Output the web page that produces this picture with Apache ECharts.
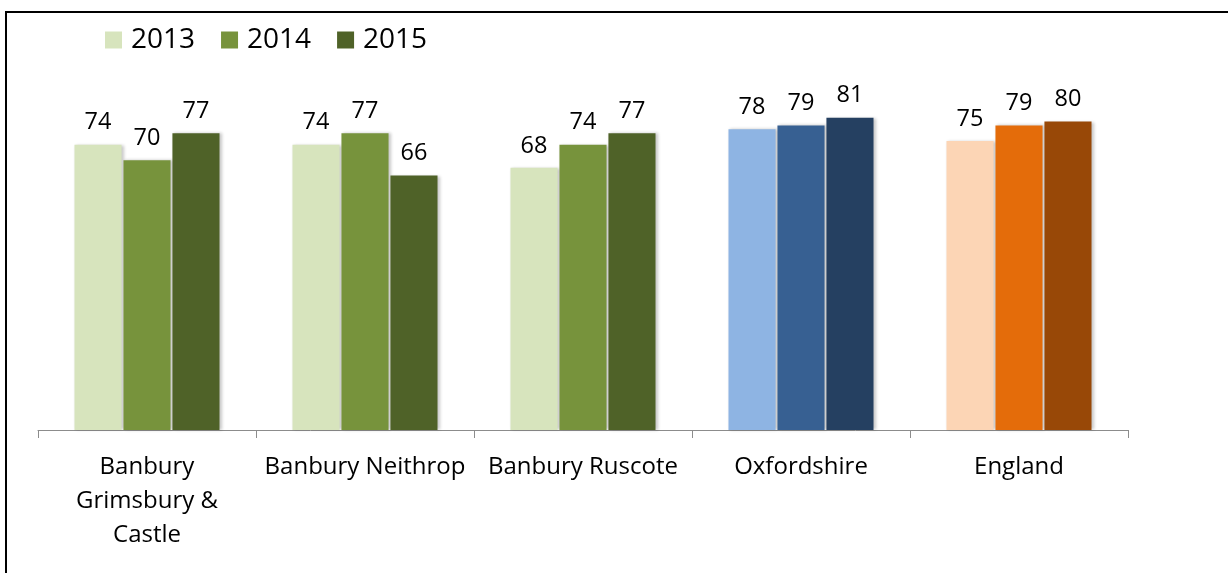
<!DOCTYPE html>
<html>
<head>
<meta charset="utf-8">
<script src="https://cdn.jsdelivr.net/npm/echarts@6/dist/echarts.min.js"></script>
<style>
  html, body { margin: 0; padding: 0; background: #fff; }
  #chart { width: 1228px; height: 573px; }
</style>
</head>
<body>
<div id="chart"></div>
<script>
// Areas compared and the three survey years
const categories = ['Banbury\nGrimsbury &\nCastle', 'Banbury Neithrop', 'Banbury Ruscote', 'Oxfordshire', 'England'];
const years = ['2013', '2014', '2015'];
const values2013 = [74, 74, 68, 78, 75];
const values2014 = [70, 77, 74, 79, 79];
const values2015 = [77, 66, 77, 81, 80];

// Palettes: green for Banbury wards, blue for the county, orange for England
const greens = ['#D7E4BD', '#77933C', '#4F6228'];
const blues = ['#8EB4E3', '#376092', '#254061'];
const oranges = ['#FCD5B5', '#E46C0A', '#984807'];

const FONT = '"Open Sans", Lato, sans-serif';

function colourFor(catIndex, yearIndex) {
  if (catIndex === 3) return blues[yearIndex];
  if (catIndex === 4) return oranges[yearIndex];
  return greens[yearIndex];
}

const seriesValues = [values2013, values2014, values2015];

const chart = echarts.init(document.getElementById('chart'));
chart.setOption({
  backgroundColor: '#fff',
  animation: false,
  textStyle: { fontFamily: FONT },
  graphic: [
    { type: 'line', shape: { x1: 5, y1: 12, x2: 1228, y2: 12 }, style: { stroke: '#000', lineWidth: 2 } },
    { type: 'line', shape: { x1: 6, y1: 12, x2: 6, y2: 573 }, style: { stroke: '#000', lineWidth: 2 } }
  ],
  legend: {
    left: 100,
    top: 21,
    icon: 'rect',
    itemWidth: 17,
    itemHeight: 17,
    itemGap: 26,
    textStyle: { fontSize: 28, color: '#000', fontFamily: FONT, padding: [0, 0, 0, 4] },
    data: years
  },
  grid: { left: 38, right: 100, top: 44.5, bottom: 143, containLabel: false },
  xAxis: {
    type: 'category',
    data: categories,
    axisLine: { lineStyle: { color: '#8C8C8C', width: 1 } },
    axisTick: { show: true, length: 8, lineStyle: { color: '#8C8C8C' } },
    axisLabel: {
      interval: 0,
      margin: 20,
      fontSize: 24,
      lineHeight: 34,
      color: '#000',
      fontFamily: FONT,
      verticalAlign: 'top'
    }
  },
  yAxis: {
    type: 'value',
    min: 0,
    max: 100,
    show: false,
    splitLine: { show: false }
  },
  series: seriesValues.map((vals, yi) => ({
    name: years[yi],
    type: 'bar',
    barWidth: '21.6%',
    barGap: '4%',
    itemStyle: {
      color: greens[yi],
      shadowColor: 'rgba(0,0,0,0.22)',
      shadowBlur: 3,
      shadowOffsetX: 2,
      shadowOffsetY: 0
    },
    label: {
      show: true,
      position: 'top',
      distance: 10,
      fontSize: 23.5,
      color: '#000',
      fontFamily: FONT
    },
    data: vals.map((v, ci) => ({ value: v, itemStyle: { color: colourFor(ci, yi) } }))
  }))
});
</script>
</body>
</html>
